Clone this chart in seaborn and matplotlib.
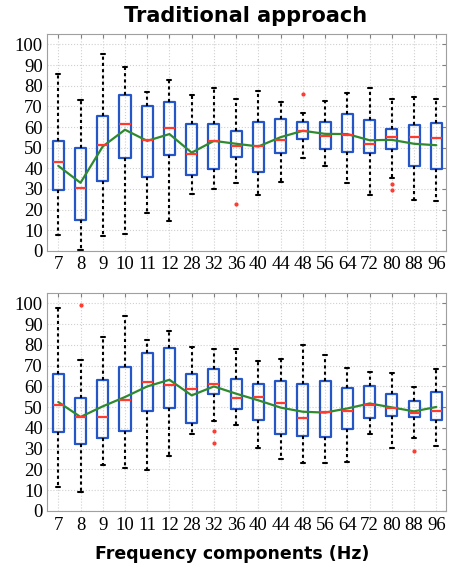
import numpy as np
import matplotlib
matplotlib.use("Agg")
import matplotlib.pyplot as plt
import seaborn as sns

# ==========================================
# Data
# ==========================================

freqs = ["7", "8", "9", "10", "11", "12", "28", "32", "36",
         "40", "44", "48", "56", "64", "72", "80", "88", "96"]

# top panel
top_lo = [7.8, 0.3, 7.3, 8.0, 18.2, 14.3, 27.4, 30.0, 33.0,
          26.9, 33.2, 44.9, 41.2, 33.0, 27.2, 35.5, 24.5, 24.0]
top_q1 = [29.3, 14.9, 33.9, 45.2, 36.0, 46.5, 36.6, 39.9, 45.7,
          38.4, 47.3, 54.1, 49.6, 48.0, 47.3, 49.3, 41.3, 39.5]
top_med = [43.3, 30.6, 51.4, 61.6, 53.8, 59.5, 47.0, 53.3, 51.0,
           50.6, 53.8, 58.2, 55.9, 56.2, 51.7, 55.1, 55.4, 54.8]
top_q3 = [53.3, 49.8, 65.2, 75.5, 70.3, 72.0, 61.4, 61.4, 58.2,
          62.4, 63.9, 62.6, 62.6, 66.3, 63.2, 59.2, 61.1, 61.8]
top_hi = [85.7, 73.0, 95.5, 89.0, 77.0, 82.7, 75.7, 79.0, 73.7,
          77.5, 72.0, 66.8, 72.6, 76.5, 79.0, 73.7, 74.6, 73.6]
top_mean = [41.2, 33.0, 50.6, 58.7, 53.3, 56.6, 47.6, 53.3, 51.9,
            50.6, 55.1, 58.2, 56.7, 56.6, 53.6, 53.8, 51.9, 51.2]
top_out = [[], [], [], [], [], [], [], [], [22.5],
           [], [], [76.0], [], [], [], [32.6, 29.3], [], []]

# bottom panel
bot_lo = [11.7, 9.0, 22.2, 20.8, 19.5, 26.7, 37.3, 43.2, 41.4,
          30.4, 24.8, 23.2, 23.2, 23.7, 37.1, 30.2, 35.2, 31.5]
bot_q1 = [38.1, 32.5, 35.0, 38.7, 48.3, 49.6, 42.6, 56.3, 49.1,
          43.8, 37.0, 36.2, 35.8, 39.4, 44.6, 45.9, 45.4, 43.7]
bot_med = [51.2, 45.4, 45.3, 53.6, 62.1, 60.8, 58.6, 61.1, 54.4,
           54.9, 52.0, 45.0, 47.7, 48.0, 51.2, 49.4, 47.2, 48.3]
bot_q3 = [66.1, 54.2, 63.2, 69.6, 76.2, 78.4, 65.9, 68.2, 63.5,
          61.1, 62.4, 61.3, 62.4, 59.2, 60.0, 56.3, 53.0, 57.3]
bot_hi = [97.9, 72.5, 84.0, 93.8, 82.6, 86.9, 79.0, 77.8, 77.9,
          72.2, 73.1, 80.2, 75.0, 69.0, 66.9, 66.7, 59.5, 68.5]
bot_mean = [52.5, 45.3, 50.4, 54.9, 60.0, 63.2, 55.7, 60.0, 56.5,
            53.3, 49.8, 47.8, 47.4, 49.4, 51.8, 49.9, 48.0, 50.1]
bot_out = [[], [99.0], [], [], [], [], [], [38.7, 32.6], [],
           [], [], [], [], [], [], [], [29.1], []]

# ==========================================
# Style
# ==========================================

BLUE = "#2456c8"
RED = "#ff3b30"
GREEN = "#2f8a2f"

sns.set_style("whitegrid")
plt.rcParams["font.family"] = ["Liberation Serif", "DejaVu Serif"]
plt.rcParams["text.color"] = "black"
plt.rcParams["xtick.color"] = "black"
plt.rcParams["ytick.color"] = "black"
plt.rcParams["grid.color"] = "#d0d0d0"
plt.rcParams["grid.linestyle"] = ":"
plt.rcParams["grid.linewidth"] = 0.8
plt.rcParams["axes.edgecolor"] = "#a0a0a0"
plt.rcParams["axes.linewidth"] = 0.8

fig = plt.figure(figsize=(4.49, 5.69), dpi=100)
ax_top = fig.add_axes([0.105, 0.559, 0.889, 0.381])
ax_bot = fig.add_axes([0.105, 0.102, 0.889, 0.383])


def draw_panel(ax, lo, q1, med, q3, hi, mean, out):
    stats = []
    for i in range(len(freqs)):
        stats.append({
            "whislo": lo[i], "q1": q1[i], "med": med[i],
            "q3": q3[i], "whishi": hi[i], "fliers": out[i],
        })
    pos = np.arange(len(freqs))
    ax.bxp(
        stats, positions=pos, widths=0.5, capwidths=0.18,
        showfliers=True, manage_ticks=False,
        boxprops=dict(color=BLUE, linewidth=1.6),
        medianprops=dict(color=RED, linewidth=1.6),
        whiskerprops=dict(color="black", linestyle=(0, (1.5, 1.5)), linewidth=1.5),
        capprops=dict(color="black", linewidth=1.5),
        flierprops=dict(marker="o", markersize=2, markerfacecolor=RED,
                        markeredgecolor=RED),
    )
    sns.lineplot(x=pos, y=mean, ax=ax, color=GREEN, linewidth=1.6)

    ax.set_xlim(-0.5, len(freqs) - 0.55)
    ax.set_ylim(0, 105)
    ax.set_xticks(pos)
    ax.set_xticklabels(freqs)
    ax.set_yticks(range(0, 101, 10))
    ax.tick_params(axis="both", labelsize=13.5, direction="in", length=3,
                   color="#808080", labelcolor="black", top=True, right=True, pad=3)
    ax.tick_params(axis="x", pad=4)
    for s in ax.spines.values():
        s.set_visible(True)


draw_panel(ax_top, top_lo, top_q1, top_med, top_q3, top_hi, top_mean, top_out)
draw_panel(ax_bot, bot_lo, bot_q1, bot_med, bot_q3, bot_hi, bot_mean, bot_out)

fig.text(0.548, 0.972, "Traditional approach", ha="center", va="center",
         fontsize=15, fontweight="bold", family="DejaVu Sans", color="black")
fig.text(0.517, 0.026, "Frequency components (Hz)", ha="center", va="center",
         fontsize=12.5, fontweight="bold", family="DejaVu Sans", color="black")

fig.savefig("out.png", dpi=100)
